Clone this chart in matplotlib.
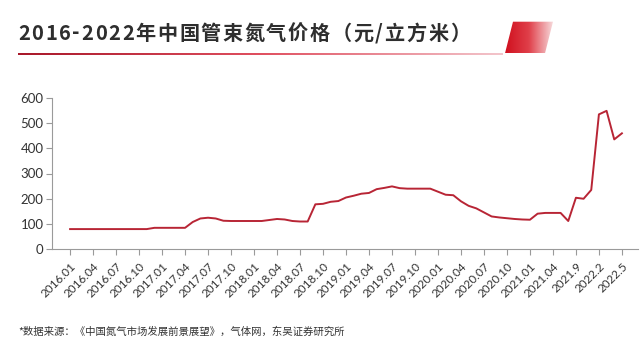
import numpy as np
import matplotlib
matplotlib.use("Agg")
import matplotlib.pyplot as plt
from matplotlib.patches import Polygon
from matplotlib.colors import LinearSegmentedColormap

plt.rcParams['font.family'] = ['Lato', 'Noto Sans CJK SC', 'DejaVu Sans']

title = "2016-2022年中国管束氮气价格（元/立方米）"
note = "*数据来源：《中国氮气市场发展前景展望》，气体网，东吴证券研究所"

tick_labels = ["2016.01", "2016.04", "2016.07", "2016.10",
               "2017.01", "2017.04", "2017.07", "2017.10",
               "2018.01", "2018.04", "2018.07", "2018.10",
               "2019.01", "2019.04", "2019.07", "2019.10",
               "2020.01", "2020.04", "2020.07", "2020.10",
               "2021.01", "2021.04", "2021.9", "2022.2", "2022.5"]

# price per point (yuan / m3)
price = [80, 80, 80, 80, 80, 80, 80, 80, 80, 80,
         80, 85, 85, 85, 85, 85, 108, 122, 125, 122,
         113, 112, 112, 112, 112, 112, 116, 120, 118, 112,
         110, 110, 178, 180, 188, 191, 205, 212, 220, 223,
         238, 243, 249, 242, 240, 240, 240, 240, 228, 216,
         214, 190, 172, 162, 146, 130, 126, 123, 120, 118,
         117, 141, 144, 144, 144, 112, 204, 200, 235, 534,
         548, 435, 459]

x = np.arange(len(price))

fig = plt.figure(figsize=(6.4, 3.53), dpi=100)
W, H = 640, 353

ax = fig.add_axes([51.7 / W, 1 - 249.3 / H, (638 - 51.7) / W, (249.3 - 97.7) / H])
ax.plot(x, price, color='#b82535', lw=1.4)
ax.set_ylim(0, 600)
ax.set_xlim(-2.4, 74.1)
ax.set_yticks(range(0, 601, 100))
ax.set_xticks(np.arange(0, len(tick_labels) * 3, 3))
ax.set_xticklabels(tick_labels, rotation=45, ha='right', rotation_mode='anchor')
for s in ['top', 'right']:
    ax.spines[s].set_visible(False)
for s in ['left', 'bottom']:
    ax.spines[s].set_color('#9a9a9a')
    ax.spines[s].set_linewidth(0.8)
ax.tick_params(axis='y', colors='#9a9a9a', labelcolor='#333333', labelsize=9.5, length=4, width=0.8, pad=2)
ax.tick_params(axis='x', colors='#9a9a9a', labelcolor='#333333', labelsize=8.5, length=4, width=0.8, pad=4)

# header decorations in pixel coordinates
ov = fig.add_axes([0, 0, 1, 1], zorder=-1)
ov.axis('off')

grad = np.linspace(0, 1, 256).reshape(1, -1)
line_cmap = LinearSegmentedColormap.from_list('ul', ['#a8182a', '#e05060', '#f3c6cc'])
ov.imshow(grad, cmap=line_cmap, extent=[18, 503, 55.3, 53.5], aspect='auto')

box_cmap = LinearSegmentedColormap.from_list('bx', ['#d0101e', '#e0404a', '#f7d8da'])
im = ov.imshow(grad, cmap=box_cmap, extent=[505, 553, 53.3, 21.7], aspect='auto')
poly = Polygon([[505, 53.3], [513, 21.7], [553, 21.7], [545, 53.3]], closed=True,
               transform=ov.transData, fc='none', ec='none')
ov.add_patch(poly)
im.set_clip_path(poly)
ov.set_xlim(0, W)
ov.set_ylim(H, 0)

# title drawn char by char to get the wide letter spacing
renderer = fig.canvas.get_renderer()
tfam = ['Noto Sans CJK SC', 'DejaVu Sans']
parts = []
widths = []
for ch in title:
    t = fig.text(0, 1 - 33 / H, ch, fontsize=14.5, fontweight='bold', color='#2e2e2e',
                 va='center', ha='left', family=tfam)
    parts.append(t)
    widths.append(t.get_window_extent(renderer).width)
track = (452 - sum(widths)) / (len(title) - 1)
px = 18
for t, w in zip(parts, widths):
    t.set_x(px / W)
    px += w + track

fig.text(18 / W, 1 - 332 / H, note, fontsize=7.5, color='#333333',
         va='center', ha='left', family=['Noto Sans CJK SC', 'DejaVu Sans'])

fig.savefig('out.png', dpi=100)
